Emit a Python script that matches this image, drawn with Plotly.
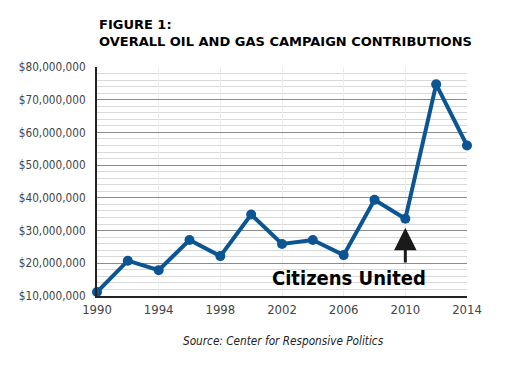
import plotly.graph_objects as go

years = [1990, 1992, 1994, 1996, 1998, 2000, 2002, 2004, 2006, 2008, 2010, 2012, 2014]
contributions = [11.2e6, 20.8e6, 17.9e6, 27.1e6, 22.2e6, 34.9e6, 25.9e6, 27.1e6,
                 22.5e6, 39.4e6, 33.6e6, 74.7e6, 56.0e6]
x_ticks = [1990, 1994, 1998, 2002, 2006, 2010, 2014]
y_ticks = [10e6, 20e6, 30e6, 40e6, 50e6, 60e6, 70e6, 80e6]
y_tick_labels = ["$10,000,000", "$20,000,000", "$30,000,000", "$40,000,000",
                 "$50,000,000", "$60,000,000", "$70,000,000", "$80,000,000"]
annotation_year = 2010
annotation_text = "Citizens United"

COND = "DejaVu Sans Condensed, Liberation Sans, sans-serif"

fig = go.Figure()
fig.add_trace(go.Scatter(
    x=years, y=contributions, mode="lines+markers",
    line=dict(color="#0b5592", width=4),
    marker=dict(color="#0b5592", size=10),
    cliponaxis=False, hoverinfo="skip",
))

fig.add_annotation(
    x=annotation_year, y=contributions[years.index(annotation_year)], xref="x", yref="y",
    ax=annotation_year, ay=19.8e6, axref="x", ayref="y",
    text="", showarrow=True, arrowhead=2, arrowsize=1.5, arrowwidth=3,
    arrowcolor="#1a1a1a", standoff=9,
)
fig.add_annotation(
    x=(349 - 97) / 370, y=(296 - 278) / 229, xref="paper", yref="paper",
    xanchor="center", yanchor="middle",
    text="<b>" + annotation_text + "</b>", showarrow=False,
    font=dict(family=COND, size=20, color="#000"),
)
fig.add_annotation(
    x=0, y=1, xref="paper", yref="paper", xanchor="left", yanchor="bottom",
    yshift=16, text="<b>FIGURE 1:<br>OVERALL OIL AND GAS CAMPAIGN CONTRIBUTIONS</b>",
    showarrow=False, align="left",
    font=dict(family="DejaVu Sans, Verdana", size=13, color="#000"),
)
fig.add_annotation(
    x=(283 - 97) / 370, y=-45 / 229, xref="paper", yref="paper",
    xanchor="center", yanchor="middle",
    text="<i>Source: Center for Responsive Politics</i>", showarrow=False,
    font=dict(family=COND, size=11.7, color="#222"),
)

fig.update_layout(
    width=503, height=358,
    margin=dict(l=89, r=44, t=59, b=70),
    paper_bgcolor="white", plot_bgcolor="white",
    showlegend=False,
    font=dict(family=COND, color="#444"),
)

fig.update_xaxes(
    range=[1990, 2014], tickvals=x_ticks, ticktext=[str(t) for t in x_ticks],
    showgrid=True, gridcolor="#ececec", gridwidth=1,
    showline=True, linecolor="#222", linewidth=2,
    ticks="", tickfont=dict(size=13, color="#444"), zeroline=False,
    automargin=False,
)
fig.update_yaxes(
    range=[10e6, 80e6], tickvals=y_ticks, ticktext=y_tick_labels,
    showgrid=True, gridcolor="#8c8c8c", gridwidth=1,
    minor=dict(dtick=2e6, tick0=0, showgrid=True, gridcolor="#d9d9d9", gridwidth=1),
    showline=True, linecolor="#222", linewidth=2,
    ticks="", ticklabelstandoff=7,
    tickfont=dict(size=11.7, color="#444"), zeroline=False,
    automargin=False,
)

fig.write_html("out.html")
